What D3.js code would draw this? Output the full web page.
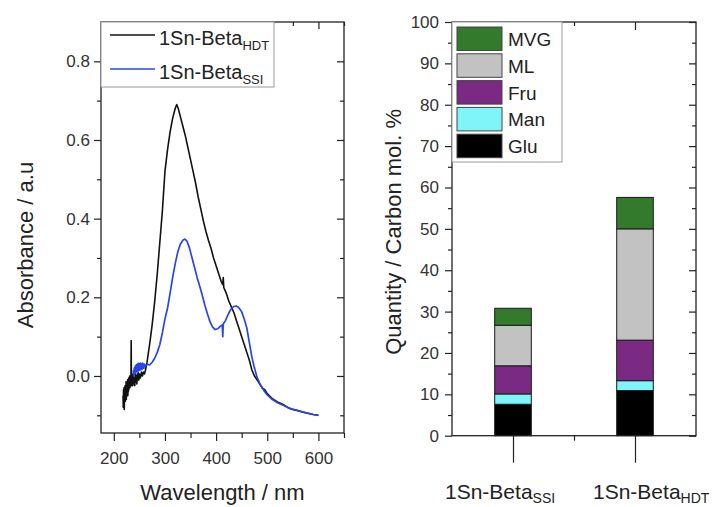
<!DOCTYPE html>
<html>
<head>
<meta charset="utf-8">
<script src="https://cdn.jsdelivr.net/npm/d3@7"></script>
<style>
  html, body { margin: 0; padding: 0; background: #fff; }
  svg { display: block; font-family: "Liberation Sans", Arial, sans-serif; }
</style>
</head>
<body>
<svg id="chart" width="716" height="507"></svg>
<script>
// UV-vis spectra (wavelength in nm, absorbance in a.u.)
const hdtNm  = [218,218.5,219,219.5,220,220.5,221,221.5,222,222.5,223,223.5,224,224.5,225,225.5,226,226.5,227,227.5,228,228.5,229,229.5,230,230.5,231,231.5,232,232.5,233,233.5,234,234.5,235,235.5,236,237,238,239,240,241,242,243,244,245,246,247,248,249,250,252,254,256,258,260,262,265,270,275,280,285,290,295,300,305,310,315,320,323,326,330,335,340,345,350,355,360,365,370,375,380,385,390,395,400,405,410,413,414,415,420,425,430,435,440,445,450,455,460,465,470,475,480,485,490,495,500,510,520,530,540,550,560,570,580,590,600];
const hdtAbs = [-0.05,-0.08,-0.035,-0.07,-0.03,-0.085,-0.04,-0.06,-0.025,-0.065,-0.035,-0.055,-0.015,-0.06,-0.03,-0.05,-0.02,-0.045,-0.01,-0.05,-0.02,-0.04,-0.005,-0.035,-0.015,-0.03,0.0,-0.03,-0.01,-0.025,0.0,-0.02,0.09,-0.025,-0.005,-0.02,0.005,-0.025,0.0,-0.02,-0.005,-0.025,0.005,-0.015,0.0,-0.02,0.005,-0.01,0.008,-0.01,0.005,-0.005,0.01,0.0,0.01,0.005,0.015,0.035,0.08,0.13,0.19,0.26,0.34,0.42,0.52,0.575,0.62,0.655,0.68,0.69,0.68,0.66,0.635,0.61,0.58,0.55,0.52,0.49,0.455,0.425,0.395,0.368,0.345,0.325,0.30,0.28,0.26,0.24,0.232,0.25,0.225,0.21,0.19,0.175,0.16,0.14,0.12,0.10,0.08,0.06,0.04,0.015,0.0,-0.01,-0.02,-0.03,-0.035,-0.045,-0.058,-0.066,-0.072,-0.08,-0.085,-0.088,-0.092,-0.095,-0.098,-0.1];

const ssiNm  = [238,239,240,241,242,243,244,245,246,247,248,249,250,251,252,253,254,255,256,257,258,259,260,262,265,270,275,280,285,290,295,300,305,310,315,320,325,330,335,339,343,348,353,358,363,368,373,378,383,388,393,398,403,408,412,413,414,418,423,428,434,439,444,450,455,460,465,470,475,480,485,490,495,500,510,520,532,545,555,565,580,590,600];
const ssiAbs = [0.015,0.0,0.02,0.005,0.025,0.008,0.028,0.012,0.03,0.01,0.032,0.015,0.03,0.014,0.033,0.018,0.03,0.016,0.033,0.02,0.03,0.02,0.03,0.025,0.03,0.028,0.035,0.045,0.06,0.08,0.11,0.145,0.172,0.21,0.25,0.285,0.315,0.335,0.345,0.348,0.343,0.325,0.30,0.275,0.25,0.228,0.205,0.18,0.158,0.138,0.125,0.118,0.12,0.126,0.13,0.1,0.132,0.14,0.155,0.168,0.176,0.178,0.174,0.163,0.145,0.122,0.085,0.048,0.02,-0.003,-0.018,-0.03,-0.04,-0.048,-0.06,-0.068,-0.075,-0.083,-0.087,-0.09,-0.095,-0.098,-0.1];

const specMajorX = [200, 300, 400, 500, 600];
const specMinorX = [250, 350, 450, 550, 650];
const specMajorY = [0.0, 0.2, 0.4, 0.6, 0.8];
const specMinorY = [-0.1, 0.1, 0.3, 0.5, 0.7];

// Product distribution (carbon mol. %)
const samples = ["SSI", "HDT"];
const samplePos = [1, 2];
const products = ["Glu", "Man", "Fru", "ML", "MVG"];
const glu = [7.6, 10.9];
const man = [2.5, 2.4];
const fru = [6.8, 9.8];
const ml  = [9.8, 26.9];
const mvg = [4.1, 7.6];
const productColors = ["#000000", "#7ff4f9", "#7a2a82", "#c2c2c2", "#337a2c"];
const barMajorY = [0, 10, 20, 30, 40, 50, 60, 70, 80, 90, 100];
const barMinorY = [5, 15, 25, 35, 45, 55, 65, 75, 85, 95];

const svg = d3.select("#chart");
const ink = "#222";

function styleAxis(g, fontSize) {
  g.select(".domain").remove();
  g.selectAll(".tick line").attr("stroke", ink).attr("stroke-width", 1.2);
  g.selectAll(".tick text").attr("fill", "#333").attr("font-size", fontSize)
    .attr("font-family", "Liberation Sans, Arial, sans-serif");
  return g;
}

// ---------- Left panel: absorbance spectra ----------
const L = { left: 101, right: 344, top: 22, bottom: 433 };
const xs = d3.scaleLinear().domain([175, 650]).range([L.left, L.right]);
const ys = d3.scaleLinear().domain([-0.145, 0.9]).range([L.bottom, L.top]);

const left = svg.append("g");

// ticks: outward on left/bottom, inward on right/top
left.append("g").attr("transform", `translate(${L.left},0)`)
  .call(d3.axisLeft(ys).tickValues(specMajorY).tickSize(7).tickPadding(4).tickFormat(d3.format(".1f")))
  .call(g => styleAxis(g, 17));
left.append("g").attr("transform", `translate(${L.left},0)`)
  .call(d3.axisLeft(ys).tickValues(specMinorY).tickSize(4).tickFormat(""))
  .call(g => styleAxis(g, 17));
left.append("g").attr("transform", `translate(${L.right},0)`)
  .call(d3.axisLeft(ys).tickValues(specMajorY).tickSize(7).tickFormat(""))
  .call(g => styleAxis(g, 17));
left.append("g").attr("transform", `translate(${L.right},0)`)
  .call(d3.axisLeft(ys).tickValues(specMinorY).tickSize(4).tickFormat(""))
  .call(g => styleAxis(g, 17));
left.append("g").attr("transform", `translate(0,${L.bottom})`)
  .call(d3.axisBottom(xs).tickValues(specMajorX).tickSize(8).tickPadding(11).tickFormat(d3.format("d")))
  .call(g => styleAxis(g, 17));
left.append("g").attr("transform", `translate(0,${L.bottom})`)
  .call(d3.axisBottom(xs).tickValues(specMinorX).tickSize(5).tickFormat(""))
  .call(g => styleAxis(g, 17));
left.append("g").attr("transform", `translate(0,${L.top})`)
  .call(d3.axisBottom(xs).tickValues(specMajorX).tickSize(7).tickFormat(""))
  .call(g => styleAxis(g, 17));
left.append("g").attr("transform", `translate(0,${L.top})`)
  .call(d3.axisBottom(xs).tickValues(specMinorX).tickSize(4).tickFormat(""))
  .call(g => styleAxis(g, 17));

const line = d3.line().x(d => xs(d[0])).y(d => ys(d[1]));
const hdtPts = hdtNm.map((v, i) => [v, hdtAbs[i]]);
const ssiPts = ssiNm.map((v, i) => [v, ssiAbs[i]]);
left.append("path").datum(hdtPts).attr("d", line)
  .attr("fill", "none").attr("stroke", "#111").attr("stroke-width", 1.6).attr("stroke-linejoin", "round");
left.append("path").datum(ssiPts).attr("d", line)
  .attr("fill", "none").attr("stroke", "#2a45e6").attr("stroke-width", 1.7).attr("stroke-linejoin", "round");

left.append("rect").attr("x", L.left).attr("y", L.top)
  .attr("width", L.right - L.left).attr("height", L.bottom - L.top)
  .attr("fill", "none").attr("stroke", ink).attr("stroke-width", 1.3);

// legend
const lg = left.append("g");
lg.append("rect").attr("x", L.left).attr("y", L.top).attr("width", 173).attr("height", 65)
  .attr("fill", "#fff").attr("stroke", "#999").attr("stroke-width", 1);
const legendRows = [
  { name: "HDT", color: "#111", y: 35 },
  { name: "SSI", color: "#2a45e6", y: 69 }
];
legendRows.forEach(r => {
  lg.append("line").attr("x1", 110).attr("x2", 155).attr("y1", r.y).attr("y2", r.y)
    .attr("stroke", r.color).attr("stroke-width", 1.4);
  const t = lg.append("text").attr("x", 159).attr("y", r.y + 10)
    .attr("font-size", 20).attr("fill", ink);
  t.append("tspan").text("1Sn-Beta");
  t.append("tspan").attr("dy", 5).attr("font-size", 13).text(r.name);
});

left.append("text").attr("x", (xs(175) + xs(650)) / 2).attr("y", 500)
  .attr("text-anchor", "middle").attr("font-size", 22).attr("fill", ink)
  .text("Wavelength / nm");
left.append("text").attr("transform", "translate(33,245) rotate(-90)")
  .attr("text-anchor", "middle").attr("font-size", 22).attr("fill", ink)
  .text("Absorbance / a.u");

// ---------- Right panel: stacked product bars ----------
const R = { left: 452, right: 696, top: 22, bottom: 435.7 };
const xb = d3.scaleLinear().domain([0.5, 2.5]).range([R.left, R.right]);
const yb = d3.scaleLinear().domain([0, 100]).range([R.bottom, R.top]);
const barW = xb(1.3) - xb(1);

const right = svg.append("g");

right.append("g").attr("transform", `translate(${R.left},0)`)
  .call(d3.axisLeft(yb).tickValues(barMajorY).tickSize(7).tickPadding(6).tickFormat(d3.format("d")))
  .call(g => styleAxis(g, 17));
right.append("g").attr("transform", `translate(${R.left},0)`)
  .call(d3.axisLeft(yb).tickValues(barMinorY).tickSize(4).tickFormat(""))
  .call(g => styleAxis(g, 17));
right.append("g").attr("transform", `translate(${R.right},0)`)
  .call(d3.axisLeft(yb).tickValues(barMajorY).tickSize(7).tickFormat(""))
  .call(g => styleAxis(g, 17));
right.append("g").attr("transform", `translate(${R.right},0)`)
  .call(d3.axisLeft(yb).tickValues(barMinorY).tickSize(4).tickFormat(""))
  .call(g => styleAxis(g, 17));
right.append("g").attr("transform", `translate(0,${R.bottom})`)
  .call(d3.axisBottom(xb).tickValues(samplePos).tickSize(27).tickFormat(""))
  .call(g => styleAxis(g, 17));
right.append("g").attr("transform", `translate(0,${R.bottom})`)
  .call(d3.axisBottom(xb).tickValues([1.5]).tickSize(5).tickFormat(""))
  .call(g => styleAxis(g, 17));
right.append("g").attr("transform", `translate(0,${R.top})`)
  .call(d3.axisBottom(xb).tickValues(samplePos).tickSize(8).tickFormat(""))
  .call(g => styleAxis(g, 17));
right.append("g").attr("transform", `translate(0,${R.top})`)
  .call(d3.axisBottom(xb).tickValues([1.5]).tickSize(4).tickFormat(""))
  .call(g => styleAxis(g, 17));

const rows = samples.map((s, i) => ({
  sample: s, pos: samplePos[i],
  Glu: glu[i], Man: man[i], Fru: fru[i], ML: ml[i], MVG: mvg[i]
}));
const stacked = d3.stack().keys(products)(rows);
const color = d3.scaleOrdinal().domain(products).range(productColors);

right.selectAll("g.layer").data(stacked).join("g").attr("class", "layer")
  .attr("fill", d => color(d.key))
  .selectAll("rect").data(d => d).join("rect")
  .attr("x", d => xb(d.data.pos) - barW / 2)
  .attr("width", barW)
  .attr("y", d => yb(d[1]))
  .attr("height", d => yb(d[0]) - yb(d[1]))
  .attr("stroke", "#1a1a1a").attr("stroke-width", 1);

right.append("rect").attr("x", R.left).attr("y", R.top)
  .attr("width", R.right - R.left).attr("height", R.bottom - R.top)
  .attr("fill", "none").attr("stroke", ink).attr("stroke-width", 1.3);

// legend (top entry is the top of the stack)
const rg = right.append("g");
rg.append("rect").attr("x", R.left).attr("y", R.top).attr("width", 110).attr("height", 140)
  .attr("fill", "#fff").attr("stroke", "#999").attr("stroke-width", 1);
products.slice().reverse().forEach((p, i) => {
  const y0 = 27 + i * 26.8;
  rg.append("rect").attr("x", 457).attr("y", y0).attr("width", 45).attr("height", 23.5)
    .attr("fill", color(p)).attr("stroke", "#444").attr("stroke-width", 1);
  rg.append("text").attr("x", 508).attr("y", y0 + 19).attr("font-size", 19)
    .attr("fill", ink).text(p);
});

// category labels
const catOffsets = [-68, -42];
samples.forEach((s, i) => {
  const t = right.append("text").attr("x", xb(samplePos[i]) + catOffsets[i]).attr("y", 499)
    .attr("font-size", 21).attr("fill", ink);
  t.append("tspan").text("1Sn-Beta");
  t.append("tspan").attr("dy", 4).attr("font-size", 14).text(s);
});

right.append("text").attr("transform", `translate(401,${(R.top + R.bottom) / 2 + 3}) rotate(-90)`)
  .attr("text-anchor", "middle").attr("font-size", 22).attr("fill", ink)
  .text("Quantity / Carbon mol. %");
</script>
</body>
</html>
